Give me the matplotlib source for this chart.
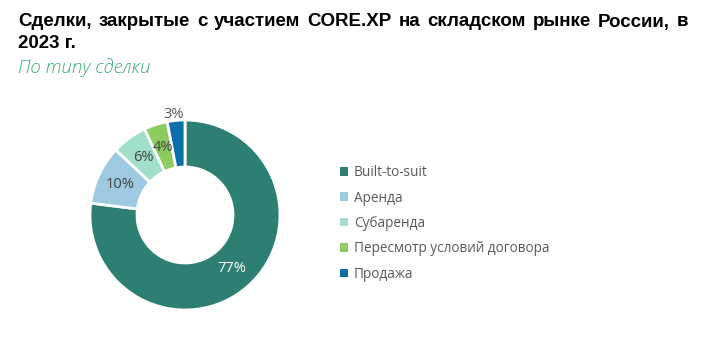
import numpy as np
import matplotlib
matplotlib.use("Agg")
from matplotlib import pyplot as plt

# data
categories = ["Built-to-suit", "Аренда", "Субаренда", "Пересмотр условий договора", "Продажа"]
shares = [77, 10, 6, 4, 3]
colors = ["#2e7f73", "#9ecae1", "#a0e0c8", "#8ccc5e", "#0a6ea8"]
label_colors = ["white", "#404040", "#404040", "#404040", "#595959"]

title_line1 = "Сделки, закрытые с участием CORE.XP на складском рынке России, в"
title_line2 = "2023 г."
subtitle = "По типу сделки"

W, H = 706, 341
fig = plt.figure(figsize=(W / 100, H / 100), dpi=100)
fig.patch.set_facecolor("white")
renderer = fig.canvas.get_renderer()

title_font = dict(fontsize=13.5, fontweight="bold", family=["Liberation Sans Narrow", "Liberation Sans"],
                  color="black", va="center", ha="left")


def justify(line, x0, x1, y):
    # place words one by one so the line fills x0..x1 (pixels)
    words = line.split(" ")
    items = [fig.text(0, y / H, w, **title_font) for w in words]
    widths = [t.get_window_extent(renderer).width for t in items]
    gap = (x1 - x0 - sum(widths)) / (len(words) - 1)
    x = x0
    for t, w in zip(items, widths):
        t.set_x(x / W)
        x += w + gap


justify(title_line1, 18, 688, H - 22)
fig.text(18 / W, 1 - 43 / H, title_line2, **title_font)
fig.text(18 / W, 1 - 68 / H, subtitle, fontsize=13.4, style="italic",
         family=["Open Sans", "DejaVu Sans"], color="#3aaa6a", fontweight="light",
         va="center", ha="left")

# donut
cx, cy = 185, 215
ax = fig.add_axes([(cx - 100) / W, (H - cy - 100) / H, 200 / W, 200 / H])

wedges, texts, autotexts = ax.pie(
    shares, colors=colors, startangle=90, counterclock=False, radius=0.95,
    wedgeprops=dict(width=0.47, edgecolor="white", linewidth=2),
    autopct="%d%%", pctdistance=0.75,
    textprops=dict(fontsize=10.5, family=["Open Sans", "DejaVu Sans"]))
ax.set_xlim(-1, 1)
ax.set_ylim(-1, 1)
ax.set_aspect("equal")
ax.axis("off")

for t, c in zip(autotexts, label_colors):
    t.set_color(c)

# small slice label goes outside, above the wedge
last = wedges[-1]
ang = np.deg2rad((last.theta1 + last.theta2) / 2)
autotexts[-1].set_position((1.08 * np.cos(ang) - 0.01, 1.0))

# legend
leg = fig.legend(wedges, categories, loc="upper left",
                 bbox_to_anchor=(328 / W, 1 - 153 / H), frameon=False,
                 handlelength=0.6, handleheight=0.6, handletextpad=0.4,
                 labelspacing=0.76,
                 prop=dict(size=9.8, family=["Open Sans", "DejaVu Sans"]))
for txt in leg.get_texts():
    txt.set_color("#595959")
for h in leg.legend_handles:
    h.set_edgecolor("none")

fig.savefig("out.png", dpi=100)
